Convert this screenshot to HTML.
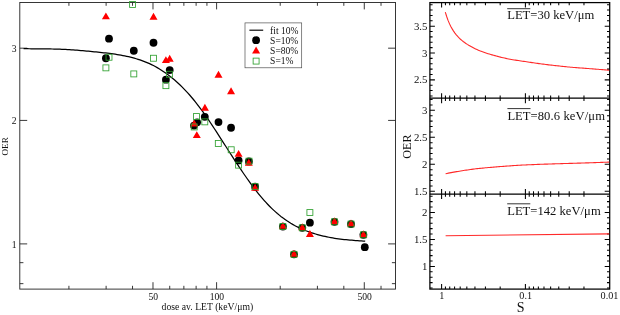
<!DOCTYPE html>
<html><head><meta charset="utf-8"><title>OER vs LET</title>
<style>
html,body{margin:0;padding:0;background:#fff;}
svg{display:block;will-change:transform;}
text{font-family:"Liberation Serif","DejaVu Serif",serif;fill:#111;}
</style></head>
<body>
<svg width="620" height="315" viewBox="0 0 620 315">
<rect width="620" height="315" fill="#fff"/>
<g id="left">
<path d="M152.99 289.1v-6.9M152.99 2.5v6.9M216.60 289.1v-6.9M216.60 2.5v6.9M364.29 289.1v-6.9M364.29 2.5v6.9M68.91 289.1v-3.3M68.91 2.5v3.3M106.12 289.1v-3.3M106.12 2.5v3.3M132.52 289.1v-3.3M132.52 2.5v3.3M169.72 289.1v-3.3M169.72 2.5v3.3M183.87 289.1v-3.3M183.87 2.5v3.3M196.12 289.1v-3.3M196.12 2.5v3.3M206.93 289.1v-3.3M206.93 2.5v3.3M280.21 289.1v-3.3M280.21 2.5v3.3M317.42 289.1v-3.3M317.42 2.5v3.3M343.82 289.1v-3.3M343.82 2.5v3.3M381.02 289.1v-3.3M381.02 2.5v3.3M19.8 243.90h7.4M395.5 243.90h-7.4M19.8 120.42h7.4M395.5 120.42h-7.4M19.8 48.18h7.4M395.5 48.18h-7.4M19.8 283.65h3.5999999999999996M395.5 283.65h-3.5999999999999996M19.8 262.67h3.5999999999999996M395.5 262.67h-3.5999999999999996" stroke="#222" stroke-width="0.9" fill="none"/>
<rect x="19.8" y="2.5" width="375.70" height="286.60" fill="none" stroke="#222" stroke-width="0.9"/>
<path d="M23.60 48.70 L25.51 48.72 L27.42 48.73 L29.33 48.75 L31.23 48.77 L33.14 48.79 L35.05 48.81 L36.96 48.82 L38.87 48.84 L40.78 48.86 L42.68 48.88 L44.59 48.89 L46.50 48.91 L48.41 48.94 L50.32 48.97 L52.23 49.00 L54.13 49.04 L56.04 49.08 L57.95 49.14 L59.86 49.20 L61.77 49.27 L63.68 49.35 L65.58 49.44 L67.49 49.54 L69.40 49.65 L71.31 49.77 L73.22 49.90 L75.13 50.04 L77.03 50.19 L78.94 50.35 L80.85 50.52 L82.76 50.69 L84.67 50.87 L86.58 51.05 L88.48 51.23 L90.39 51.41 L92.30 51.60 L94.21 51.78 L96.12 51.97 L98.03 52.17 L99.94 52.36 L101.84 52.57 L103.75 52.77 L105.66 52.99 L107.57 53.22 L109.48 53.45 L111.39 53.70 L113.29 53.96 L115.20 54.23 L117.11 54.52 L119.02 54.83 L120.93 55.16 L122.84 55.52 L124.74 55.89 L126.65 56.29 L128.56 56.72 L130.47 57.18 L132.38 57.66 L134.29 58.18 L136.19 58.73 L138.10 59.31 L140.01 59.93 L141.92 60.60 L143.83 61.30 L145.74 62.05 L147.64 62.85 L149.55 63.69 L151.46 64.59 L153.37 65.54 L155.28 66.55 L157.19 67.61 L159.09 68.73 L161.00 69.91 L162.91 71.15 L164.82 72.45 L166.73 73.80 L168.64 75.22 L170.55 76.70 L172.45 78.24 L174.36 79.84 L176.27 81.51 L178.18 83.24 L180.09 85.03 L182.00 86.89 L183.90 88.82 L185.81 90.82 L187.72 92.89 L189.63 95.02 L191.54 97.23 L193.45 99.51 L195.35 101.87 L197.26 104.29 L199.17 106.78 L201.08 109.34 L202.99 111.96 L204.90 114.64 L206.80 117.37 L208.71 120.15 L210.62 122.98 L212.53 125.84 L214.44 128.74 L216.35 131.67 L218.25 134.62 L220.16 137.58 L222.07 140.56 L223.98 143.54 L225.89 146.52 L227.80 149.50 L229.71 152.48 L231.61 155.44 L233.52 158.39 L235.43 161.31 L237.34 164.21 L239.25 167.09 L241.16 169.93 L243.06 172.74 L244.97 175.51 L246.88 178.24 L248.79 180.92 L250.70 183.55 L252.61 186.13 L254.51 188.66 L256.42 191.12 L258.33 193.52 L260.24 195.85 L262.15 198.12 L264.06 200.31 L265.96 202.43 L267.87 204.47 L269.78 206.44 L271.69 208.33 L273.60 210.15 L275.51 211.89 L277.41 213.55 L279.32 215.14 L281.23 216.66 L283.14 218.11 L285.05 219.49 L286.96 220.81 L288.86 222.05 L290.77 223.24 L292.68 224.37 L294.59 225.44 L296.50 226.45 L298.41 227.42 L300.32 228.32 L302.22 229.19 L304.13 230.00 L306.04 230.77 L307.95 231.49 L309.86 232.18 L311.77 232.83 L313.67 233.44 L315.58 234.01 L317.49 234.56 L319.40 235.07 L321.31 235.56 L323.22 236.02 L325.12 236.45 L327.03 236.86 L328.94 237.24 L330.85 237.61 L332.76 237.95 L334.67 238.27 L336.57 238.57 L338.48 238.84 L340.39 239.09 L342.30 239.32 L344.21 239.53 L346.12 239.72 L348.02 239.90 L349.93 240.07 L351.84 240.23 L353.75 240.38 L355.66 240.53 L357.57 240.67 L359.47 240.81 L361.38 240.94 L363.29 241.07 L365.20 241.19" stroke="#000" stroke-width="1.25" fill="none" stroke-linejoin="round"/>
<circle cx="105.9" cy="58.25" r="3.9" fill="#000"/>
<circle cx="109" cy="38.65" r="3.9" fill="#000"/>
<circle cx="133.8" cy="50.75" r="3.9" fill="#000"/>
<circle cx="153.5" cy="42.75" r="3.9" fill="#000"/>
<circle cx="165.9" cy="79.65" r="3.9" fill="#000"/>
<circle cx="169.7" cy="70.05" r="3.9" fill="#000"/>
<circle cx="194.0" cy="125.55" r="3.9" fill="#000"/>
<circle cx="197.1" cy="122.35" r="3.9" fill="#000"/>
<circle cx="204.8" cy="116.85" r="3.9" fill="#000"/>
<circle cx="218.5" cy="122.05" r="3.9" fill="#000"/>
<circle cx="231.05" cy="127.75" r="3.9" fill="#000"/>
<circle cx="238.6" cy="160.45" r="3.9" fill="#000"/>
<circle cx="248.9" cy="161.45" r="3.9" fill="#000"/>
<circle cx="255.1" cy="186.75" r="3.9" fill="#000"/>
<circle cx="282.9" cy="226.55" r="3.9" fill="#000"/>
<circle cx="294" cy="254.35" r="3.9" fill="#000"/>
<circle cx="302.3" cy="227.85" r="3.9" fill="#000"/>
<circle cx="309.9" cy="222.65" r="3.9" fill="#000"/>
<circle cx="334.5" cy="221.85" r="3.9" fill="#000"/>
<circle cx="351" cy="224.05" r="3.9" fill="#000"/>
<circle cx="363.4" cy="234.85" r="3.9" fill="#000"/>
<circle cx="364.8" cy="247.15" r="3.9" fill="#000"/>
<path d="M105.90 12.43L101.90 19.36L109.90 19.36ZM153.50 12.73L149.50 19.66L157.50 19.66ZM165.90 56.13L161.90 63.06L169.90 63.06ZM169.70 54.83L165.70 61.76L173.70 61.76ZM194.20 119.63L190.20 126.56L198.20 126.56ZM196.80 131.13L192.80 138.06L200.80 138.06ZM204.90 103.73L200.90 110.66L208.90 110.66ZM218.50 70.83L214.50 77.76L222.50 77.76ZM231.05 87.33L227.05 94.26L235.05 94.26ZM238.60 149.93L234.60 156.86L242.60 156.86ZM248.80 158.83L244.80 165.76L252.80 165.76ZM255.10 183.73L251.10 190.66L259.10 190.66ZM282.90 221.93L278.90 228.86L286.90 228.86ZM294.00 249.73L290.00 256.66L298.00 256.66ZM302.30 223.23L298.30 230.16L306.30 230.16ZM309.90 230.03L305.90 236.96L313.90 236.96ZM334.50 217.23L330.50 224.16L338.50 224.16ZM351.00 219.43L347.00 226.36L355.00 226.36ZM363.40 230.23L359.40 237.16L367.40 237.16Z" fill="#ff0000"/>
<rect x="129.62" y="1.57" width="5.95" height="5.95" fill="none" stroke="#2fa02f" stroke-width="0.85"/>
<rect x="106.03" y="54.27" width="5.95" height="5.95" fill="none" stroke="#2fa02f" stroke-width="0.85"/>
<rect x="102.93" y="64.88" width="5.95" height="5.95" fill="none" stroke="#2fa02f" stroke-width="0.85"/>
<rect x="130.83" y="70.93" width="5.95" height="5.95" fill="none" stroke="#2fa02f" stroke-width="0.85"/>
<rect x="150.53" y="55.27" width="5.95" height="5.95" fill="none" stroke="#2fa02f" stroke-width="0.85"/>
<rect x="166.43" y="71.28" width="5.95" height="5.95" fill="none" stroke="#2fa02f" stroke-width="0.85"/>
<rect x="162.93" y="82.68" width="5.95" height="5.95" fill="none" stroke="#2fa02f" stroke-width="0.85"/>
<rect x="193.53" y="113.58" width="5.95" height="5.95" fill="none" stroke="#2fa02f" stroke-width="0.85"/>
<rect x="201.83" y="118.88" width="5.95" height="5.95" fill="none" stroke="#2fa02f" stroke-width="0.85"/>
<rect x="191.22" y="123.98" width="5.95" height="5.95" fill="none" stroke="#2fa02f" stroke-width="0.85"/>
<rect x="215.33" y="140.47" width="5.95" height="5.95" fill="none" stroke="#2fa02f" stroke-width="0.85"/>
<rect x="228.22" y="146.78" width="5.95" height="5.95" fill="none" stroke="#2fa02f" stroke-width="0.85"/>
<rect x="235.62" y="162.18" width="5.95" height="5.95" fill="none" stroke="#2fa02f" stroke-width="0.85"/>
<rect x="246.03" y="158.18" width="5.95" height="5.95" fill="none" stroke="#2fa02f" stroke-width="0.85"/>
<rect x="252.12" y="183.58" width="5.95" height="5.95" fill="none" stroke="#2fa02f" stroke-width="0.85"/>
<rect x="279.92" y="223.58" width="5.95" height="5.95" fill="none" stroke="#2fa02f" stroke-width="0.85"/>
<rect x="291.02" y="251.38" width="5.95" height="5.95" fill="none" stroke="#2fa02f" stroke-width="0.85"/>
<rect x="299.32" y="224.88" width="5.95" height="5.95" fill="none" stroke="#2fa02f" stroke-width="0.85"/>
<rect x="306.92" y="209.58" width="5.95" height="5.95" fill="none" stroke="#2fa02f" stroke-width="0.85"/>
<rect x="331.52" y="218.88" width="5.95" height="5.95" fill="none" stroke="#2fa02f" stroke-width="0.85"/>
<rect x="348.02" y="221.08" width="5.95" height="5.95" fill="none" stroke="#2fa02f" stroke-width="0.85"/>
<rect x="360.42" y="231.88" width="5.95" height="5.95" fill="none" stroke="#2fa02f" stroke-width="0.85"/>
<rect x="245" y="22.9" width="56.7" height="44.9" fill="#fff" stroke="#444" stroke-width="0.65"/>
<path d="M249.4 30.2H263.2" stroke="#000" stroke-width="1.15"/>
<circle cx="256.1" cy="40.2" r="3.9" fill="#000"/>
<path d="M256.10 46.58L252.10 53.51L260.10 53.51Z" fill="#ff0000"/>
<rect x="253.13" y="58.12" width="5.95" height="5.95" fill="none" stroke="#2fa02f" stroke-width="0.85"/>
<text x="270.1" y="33.6" font-size="9.5">fit 10%</text>
<text x="270.1" y="43.8" font-size="9.5">S=10%</text>
<text x="270.1" y="54.0" font-size="9.5">S=80%</text>
<text x="270.1" y="64.2" font-size="9.5">S=1%</text>
<text x="16.6" y="247.70" font-size="9.6" text-anchor="end">1</text>
<text x="16.6" y="124.22" font-size="9.6" text-anchor="end">2</text>
<text x="16.6" y="51.98" font-size="9.6" text-anchor="end">3</text>
<text x="153.29" y="299.6" font-size="9.6" text-anchor="middle">50</text>
<text x="216.90" y="299.6" font-size="9.6" text-anchor="middle">100</text>
<text x="364.59" y="299.6" font-size="9.6" text-anchor="middle">500</text>
<text x="207.4" y="309.7" font-size="9.7" text-anchor="middle">dose av. LET (keV/μm)</text>
<text transform="translate(8 146.4) rotate(-90)" font-size="9.2" text-anchor="middle">OER</text>
</g>
<g id="right">
<text x="427.4" y="83.45" font-size="10.8" text-anchor="end">2.5</text>
<text x="427.4" y="56.60" font-size="10.8" text-anchor="end">3</text>
<text x="427.4" y="29.75" font-size="10.8" text-anchor="end">3.5</text>
<text x="427.4" y="194.90" font-size="10.8" text-anchor="end">1.5</text>
<text x="427.4" y="167.90" font-size="10.8" text-anchor="end">2</text>
<text x="427.4" y="140.90" font-size="10.8" text-anchor="end">2.5</text>
<text x="427.4" y="113.90" font-size="10.8" text-anchor="end">3</text>
<text x="427.4" y="270.00" font-size="10.8" text-anchor="end">1</text>
<text x="427.4" y="243.00" font-size="10.8" text-anchor="end">1.5</text>
<text x="427.4" y="216.00" font-size="10.8" text-anchor="end">2</text>
<path d="M441.60 2.6v5.0M525.40 2.6v5.0M500.17 2.6v2.7M485.42 2.6v2.7M474.95 2.6v2.7M466.83 2.6v2.7M460.19 2.6v2.7M454.58 2.6v2.7M449.72 2.6v2.7M445.43 2.6v2.7M583.97 2.6v2.7M569.22 2.6v2.7M558.75 2.6v2.7M550.63 2.6v2.7M543.99 2.6v2.7M538.38 2.6v2.7M533.52 2.6v2.7M529.23 2.6v2.7M441.60 98.2v-5.0M441.60 98.2v5.0M525.40 98.2v-5.0M525.40 98.2v5.0M500.17 98.2v-2.7M500.17 98.2v2.7M485.42 98.2v-2.7M485.42 98.2v2.7M474.95 98.2v-2.7M474.95 98.2v2.7M466.83 98.2v-2.7M466.83 98.2v2.7M460.19 98.2v-2.7M460.19 98.2v2.7M454.58 98.2v-2.7M454.58 98.2v2.7M449.72 98.2v-2.7M449.72 98.2v2.7M445.43 98.2v-2.7M445.43 98.2v2.7M583.97 98.2v-2.7M583.97 98.2v2.7M569.22 98.2v-2.7M569.22 98.2v2.7M558.75 98.2v-2.7M558.75 98.2v2.7M550.63 98.2v-2.7M550.63 98.2v2.7M543.99 98.2v-2.7M543.99 98.2v2.7M538.38 98.2v-2.7M538.38 98.2v2.7M533.52 98.2v-2.7M533.52 98.2v2.7M529.23 98.2v-2.7M529.23 98.2v2.7M441.60 194.0v-5.0M441.60 194.0v5.0M525.40 194.0v-5.0M525.40 194.0v5.0M500.17 194.0v-2.7M500.17 194.0v2.7M485.42 194.0v-2.7M485.42 194.0v2.7M474.95 194.0v-2.7M474.95 194.0v2.7M466.83 194.0v-2.7M466.83 194.0v2.7M460.19 194.0v-2.7M460.19 194.0v2.7M454.58 194.0v-2.7M454.58 194.0v2.7M449.72 194.0v-2.7M449.72 194.0v2.7M445.43 194.0v-2.7M445.43 194.0v2.7M583.97 194.0v-2.7M583.97 194.0v2.7M569.22 194.0v-2.7M569.22 194.0v2.7M558.75 194.0v-2.7M558.75 194.0v2.7M550.63 194.0v-2.7M550.63 194.0v2.7M543.99 194.0v-2.7M543.99 194.0v2.7M538.38 194.0v-2.7M538.38 194.0v2.7M533.52 194.0v-2.7M533.52 194.0v2.7M529.23 194.0v-2.7M529.23 194.0v2.7M441.60 289.1v-5.0M525.40 289.1v-5.0M500.17 289.1v-2.7M485.42 289.1v-2.7M474.95 289.1v-2.7M466.83 289.1v-2.7M460.19 289.1v-2.7M454.58 289.1v-2.7M449.72 289.1v-2.7M445.43 289.1v-2.7M583.97 289.1v-2.7M569.22 289.1v-2.7M558.75 289.1v-2.7M550.63 289.1v-2.7M543.99 289.1v-2.7M538.38 289.1v-2.7M533.52 289.1v-2.7M529.23 289.1v-2.7M429.9 95.96h2.7M609.7 95.96h-2.7M429.9 90.59h2.7M609.7 90.59h-2.7M429.9 85.22h2.7M609.7 85.22h-2.7M429.9 79.85h5.0M609.7 79.85h-5.0M429.9 74.48h2.7M609.7 74.48h-2.7M429.9 69.11h2.7M609.7 69.11h-2.7M429.9 63.74h2.7M609.7 63.74h-2.7M429.9 58.37h2.7M609.7 58.37h-2.7M429.9 53.00h5.0M609.7 53.00h-5.0M429.9 47.63h2.7M609.7 47.63h-2.7M429.9 42.26h2.7M609.7 42.26h-2.7M429.9 36.89h2.7M609.7 36.89h-2.7M429.9 31.52h2.7M609.7 31.52h-2.7M429.9 26.15h5.0M609.7 26.15h-5.0M429.9 20.78h2.7M609.7 20.78h-2.7M429.9 15.41h2.7M609.7 15.41h-2.7M429.9 10.04h2.7M609.7 10.04h-2.7M429.9 4.67h2.7M609.7 4.67h-2.7M429.9 191.30h5.0M609.7 191.30h-5.0M429.9 185.90h2.7M609.7 185.90h-2.7M429.9 180.50h2.7M609.7 180.50h-2.7M429.9 175.10h2.7M609.7 175.10h-2.7M429.9 169.70h2.7M609.7 169.70h-2.7M429.9 164.30h5.0M609.7 164.30h-5.0M429.9 158.90h2.7M609.7 158.90h-2.7M429.9 153.50h2.7M609.7 153.50h-2.7M429.9 148.10h2.7M609.7 148.10h-2.7M429.9 142.70h2.7M609.7 142.70h-2.7M429.9 137.30h5.0M609.7 137.30h-5.0M429.9 131.90h2.7M609.7 131.90h-2.7M429.9 126.50h2.7M609.7 126.50h-2.7M429.9 121.10h2.7M609.7 121.10h-2.7M429.9 115.70h2.7M609.7 115.70h-2.7M429.9 110.30h5.0M609.7 110.30h-5.0M429.9 104.90h2.7M609.7 104.90h-2.7M429.9 99.50h2.7M609.7 99.50h-2.7M429.9 288.00h2.7M609.7 288.00h-2.7M429.9 282.60h2.7M609.7 282.60h-2.7M429.9 277.20h2.7M609.7 277.20h-2.7M429.9 271.80h2.7M609.7 271.80h-2.7M429.9 266.40h5.0M609.7 266.40h-5.0M429.9 261.00h2.7M609.7 261.00h-2.7M429.9 255.60h2.7M609.7 255.60h-2.7M429.9 250.20h2.7M609.7 250.20h-2.7M429.9 244.80h2.7M609.7 244.80h-2.7M429.9 239.40h5.0M609.7 239.40h-5.0M429.9 234.00h2.7M609.7 234.00h-2.7M429.9 228.60h2.7M609.7 228.60h-2.7M429.9 223.20h2.7M609.7 223.20h-2.7M429.9 217.80h2.7M609.7 217.80h-2.7M429.9 212.40h5.0M609.7 212.40h-5.0M429.9 207.00h2.7M609.7 207.00h-2.7M429.9 201.60h2.7M609.7 201.60h-2.7M429.9 196.20h2.7M609.7 196.20h-2.7" stroke="#000" stroke-width="1.05" fill="none"/>
<rect x="429.9" y="2.6" width="179.80" height="286.50" fill="none" stroke="#000" stroke-width="1.25"/>
<path d="M429.9 98.2H609.7M429.9 194.0H609.7" stroke="#000" stroke-width="1.25"/>
<path d="M445.30 12.10 L446.68 16.46 L448.05 20.38 L449.43 23.62 L450.81 26.40 L452.19 28.89 L453.56 31.11 L454.94 33.09 L456.32 34.86 L457.70 36.46 L459.07 37.91 L460.45 39.23 L461.83 40.42 L463.21 41.52 L464.58 42.53 L465.96 43.48 L467.34 44.38 L468.71 45.22 L470.09 46.02 L471.47 46.79 L472.85 47.54 L474.22 48.25 L475.60 48.93 L476.98 49.58 L478.36 50.20 L479.73 50.78 L481.11 51.32 L482.49 51.83 L483.86 52.32 L485.24 52.79 L486.62 53.24 L488.00 53.67 L489.37 54.09 L490.75 54.50 L492.13 54.89 L493.51 55.27 L494.88 55.65 L496.26 56.02 L497.64 56.39 L499.02 56.75 L500.39 57.10 L501.77 57.44 L503.15 57.76 L504.52 58.08 L505.90 58.39 L507.28 58.68 L508.66 58.96 L510.03 59.22 L511.41 59.47 L512.79 59.71 L514.17 59.93 L515.54 60.15 L516.92 60.36 L518.30 60.57 L519.67 60.77 L521.05 60.97 L522.43 61.18 L523.81 61.38 L525.18 61.58 L526.56 61.79 L527.94 62.00 L529.32 62.20 L530.69 62.41 L532.07 62.62 L533.45 62.82 L534.83 63.02 L536.20 63.22 L537.58 63.41 L538.96 63.60 L540.33 63.79 L541.71 63.97 L543.09 64.14 L544.47 64.32 L545.84 64.49 L547.22 64.66 L548.60 64.83 L549.98 64.99 L551.35 65.15 L552.73 65.31 L554.11 65.47 L555.48 65.62 L556.86 65.77 L558.24 65.92 L559.62 66.07 L560.99 66.22 L562.37 66.37 L563.75 66.51 L565.13 66.65 L566.50 66.79 L567.88 66.93 L569.26 67.06 L570.64 67.19 L572.01 67.31 L573.39 67.43 L574.77 67.55 L576.14 67.66 L577.52 67.76 L578.90 67.87 L580.28 67.97 L581.65 68.07 L583.03 68.17 L584.41 68.27 L585.79 68.37 L587.16 68.47 L588.54 68.57 L589.92 68.68 L591.29 68.78 L592.67 68.89 L594.05 69.00 L595.43 69.11 L596.80 69.21 L598.18 69.32 L599.56 69.43 L600.94 69.54 L602.31 69.65 L603.69 69.76 L605.07 69.87 L606.45 69.98 L607.82 70.09 L609.20 70.20" stroke="#ff2a2a" stroke-width="1.1" fill="none" stroke-linejoin="round"/>
<path d="M445.60 173.70 L446.97 173.43 L448.35 173.16 L449.72 172.90 L451.10 172.64 L452.47 172.39 L453.85 172.14 L455.22 171.90 L456.60 171.66 L457.97 171.43 L459.35 171.20 L460.72 170.98 L462.10 170.76 L463.47 170.55 L464.85 170.33 L466.22 170.12 L467.60 169.92 L468.97 169.72 L470.35 169.53 L471.72 169.34 L473.10 169.16 L474.47 168.98 L475.85 168.82 L477.22 168.66 L478.59 168.51 L479.97 168.36 L481.34 168.22 L482.72 168.08 L484.09 167.95 L485.47 167.82 L486.84 167.70 L488.22 167.57 L489.59 167.45 L490.97 167.33 L492.34 167.21 L493.72 167.09 L495.09 166.98 L496.47 166.87 L497.84 166.76 L499.22 166.65 L500.59 166.54 L501.97 166.44 L503.34 166.34 L504.72 166.24 L506.09 166.14 L507.47 166.04 L508.84 165.94 L510.22 165.84 L511.59 165.74 L512.96 165.65 L514.34 165.55 L515.71 165.46 L517.09 165.37 L518.46 165.29 L519.84 165.21 L521.21 165.14 L522.59 165.07 L523.96 165.00 L525.34 164.93 L526.71 164.87 L528.09 164.81 L529.46 164.75 L530.84 164.69 L532.21 164.63 L533.59 164.58 L534.96 164.52 L536.34 164.47 L537.71 164.42 L539.09 164.37 L540.46 164.32 L541.84 164.27 L543.21 164.22 L544.58 164.17 L545.96 164.12 L547.33 164.08 L548.71 164.03 L550.08 163.98 L551.46 163.94 L552.83 163.89 L554.21 163.85 L555.58 163.80 L556.96 163.76 L558.33 163.72 L559.71 163.68 L561.08 163.64 L562.46 163.60 L563.83 163.56 L565.21 163.52 L566.58 163.48 L567.96 163.44 L569.33 163.40 L570.71 163.37 L572.08 163.33 L573.46 163.29 L574.83 163.25 L576.21 163.21 L577.58 163.17 L578.95 163.13 L580.33 163.09 L581.70 163.05 L583.08 163.00 L584.45 162.96 L585.83 162.92 L587.20 162.87 L588.58 162.83 L589.95 162.78 L591.33 162.73 L592.70 162.69 L594.08 162.64 L595.45 162.59 L596.83 162.54 L598.20 162.50 L599.58 162.45 L600.95 162.40 L602.33 162.35 L603.70 162.30 L605.08 162.25 L606.45 162.20 L607.83 162.15 L609.20 162.10" stroke="#ff2a2a" stroke-width="1.1" fill="none" stroke-linejoin="round"/>
<path d="M445.60 235.70 L609.20 233.90" stroke="#ff2a2a" stroke-width="1.1" fill="none" stroke-linejoin="round"/>
<text x="507.2" y="19.4" font-size="12.6">LET=</text>
<text x="537.45" y="19.4" font-size="12.6" textLength="56.85" lengthAdjust="spacing">30 keV/μm</text>
<path d="M507.2 8.7h23.1" stroke="#000" stroke-width="0.8"/>
<text x="507.4" y="119.8" font-size="12.6">LET=</text>
<text x="537.65" y="119.8" font-size="12.6" textLength="67.35" lengthAdjust="spacing">80.6 keV/μm</text>
<path d="M507.4 108.6h23.1" stroke="#000" stroke-width="0.8"/>
<text x="507.2" y="214.5" font-size="12.6">LET=</text>
<text x="537.45" y="214.5" font-size="12.6" textLength="63.25" lengthAdjust="spacing">142 keV/μm</text>
<path d="M507.2 203.8h23.1" stroke="#000" stroke-width="0.8"/>
<text x="441.90" y="299.3" font-size="10.2" text-anchor="middle">1</text>
<text x="525.70" y="299.3" font-size="10.2" text-anchor="middle">0.1</text>
<text x="609.50" y="299.3" font-size="10.2" text-anchor="middle">0.01</text>
<text x="520.6" y="311.6" font-size="14" text-anchor="middle">S</text>
<text transform="translate(411.4 146.5) rotate(-90)" font-size="12.2" text-anchor="middle">OER</text>
</g>
</svg>
</body></html>
